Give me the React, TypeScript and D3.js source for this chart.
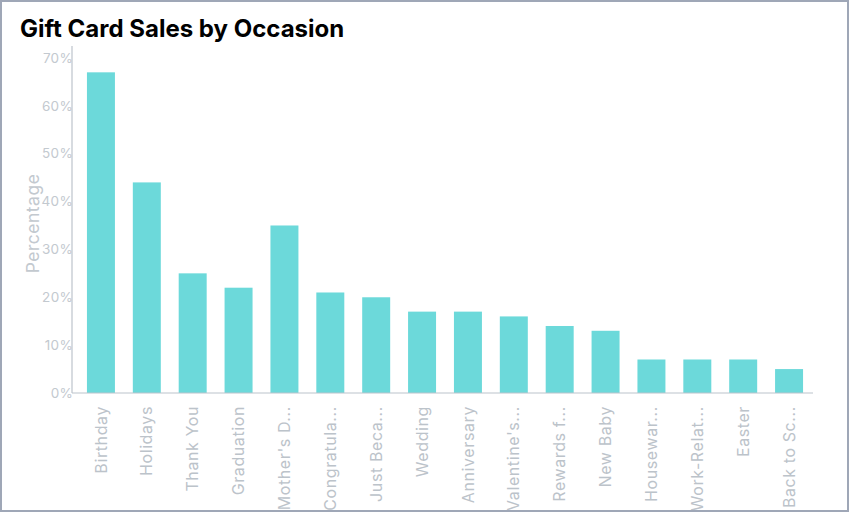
import { useEffect, useRef } from 'react';
import * as d3 from 'd3';

const occasions = [
  'Birthday',
  'Holidays',
  'Thank You',
  'Graduation',
  "Mother's Day",
  'Congratulations',
  'Just Because',
  'Wedding',
  'Anniversary',
  "Valentine's Day",
  'Rewards for Employees',
  'New Baby',
  'Housewarming',
  'Work-Related',
  'Easter',
  'Back to School',
];
const shortLabels = [
  'Birthday',
  'Holidays',
  'Thank You',
  'Graduation',
  "Mother's D...",
  'Congratula...',
  'Just Beca...',
  'Wedding',
  'Anniversary',
  "Valentine's...",
  'Rewards f...',
  'New Baby',
  'Housewar...',
  'Work-Relat...',
  'Easter',
  'Back to Sc...',
];
const percentages = [67, 44, 25, 22, 35, 21, 20, 17, 17, 16, 14, 13, 7, 7, 7, 5];
const yTicks = [0, 10, 20, 30, 40, 50, 60, 70];

const W = 850;
const H = 513;
const FONT = 'Inter, "Noto Sans", sans-serif';

export default function App() {
  const svgRef = useRef<SVGSVGElement>(null);

  useEffect(() => {
    if (!svgRef.current) return;
    const svg = d3.select(svgRef.current);
    svg.selectAll('*').remove();

    const axisLeft = 72;
    const axisRight = 813;
    const axisTop = 46;
    const axisBottom = 393;

    svg
      .append('defs')
      .append('clipPath')
      .attr('id', 'frame-clip')
      .append('rect')
      .attr('x', 2)
      .attr('y', 2)
      .attr('width', W - 4)
      .attr('height', H - 5);

    svg.append('rect').attr('width', W).attr('height', H).attr('fill', '#fff');

    const g = svg.append('g').attr('clip-path', 'url(#frame-clip)');

    // 标题
    g.append('text')
      .attr('x', 20)
      .attr('y', 37)
      .attr('font-family', FONT)
      .attr('font-size', 24)
      .attr('font-weight', 700)
      .attr('fill', '#000')
      .text('Gift Card Sales by Occasion');

    const x = d3
      .scaleBand<string>()
      .domain(occasions)
      .range([78, 812])
      .paddingInner(0.39)
      .paddingOuter(0.195);
    const y = d3.scaleLinear().domain([0, 72.5]).range([axisBottom, axisTop]);

    // 柱子
    g.selectAll('rect.bar')
      .data(occasions)
      .join('rect')
      .attr('class', 'bar')
      .attr('x', (d) => x(d)!)
      .attr('y', (_, i) => y(percentages[i]))
      .attr('width', x.bandwidth())
      .attr('height', (_, i) => y(0) - y(percentages[i]))
      .attr('fill', '#6cd9da');

    // 坐标轴线
    g.append('line')
      .attr('x1', axisLeft)
      .attr('x2', axisLeft)
      .attr('y1', axisTop)
      .attr('y2', axisBottom)
      .attr('stroke', '#bcc3cb')
      .attr('stroke-width', 1.2);
    g.append('line')
      .attr('x1', axisLeft)
      .attr('x2', axisRight)
      .attr('y1', axisBottom)
      .attr('y2', axisBottom)
      .attr('stroke', '#bcc3cb')
      .attr('stroke-width', 1.2);

    g.selectAll('text.ytick')
      .data(yTicks)
      .join('text')
      .attr('class', 'ytick')
      .attr('x', axisLeft + 1)
      .attr('y', (d) => y(d))
      .attr('dy', '0.35em')
      .attr('text-anchor', 'end')
      .attr('font-family', FONT)
      .attr('font-size', 13.5)
      .attr('letter-spacing', 0.3)
      .attr('fill', '#c3c9cf')
      .text((d) => `${d}%`);

    g.append('text')
      .attr('transform', `translate(39,${(axisTop + axisBottom) / 2 + 4}) rotate(-90)`)
      .attr('text-anchor', 'middle')
      .attr('font-family', FONT)
      .attr('font-size', 17.5)
      .attr('letter-spacing', 0.5)
      .attr('fill', '#c3c9cf')
      .text('Percentage');

    g.selectAll('text.xtick')
      .data(occasions)
      .join('text')
      .attr('class', 'xtick')
      .attr(
        'transform',
        (d) => `translate(${x(d)! + x.bandwidth() / 2},${axisBottom + 13}) rotate(-90)`
      )
      .attr('dy', '0.35em')
      .attr('text-anchor', 'end')
      .attr('font-family', FONT)
      .attr('font-size', 16)
      .attr('letter-spacing', 0.6)
      .attr('fill', '#bcc3ca')
      .text((_, i) => shortLabels[i]);

    // 外框
    svg
      .append('rect')
      .attr('x', 1)
      .attr('y', 1)
      .attr('width', W - 3)
      .attr('height', H - 3)
      .attr('fill', 'none')
      .attr('stroke', '#9fa7b7')
      .attr('stroke-width', 2);
  }, []);

  return (
    <div style={{ position: 'absolute', left: 0, top: 0 }}>
      <svg ref={svgRef} width={W} height={H} style={{ display: 'block' }} />
    </div>
  );
}
